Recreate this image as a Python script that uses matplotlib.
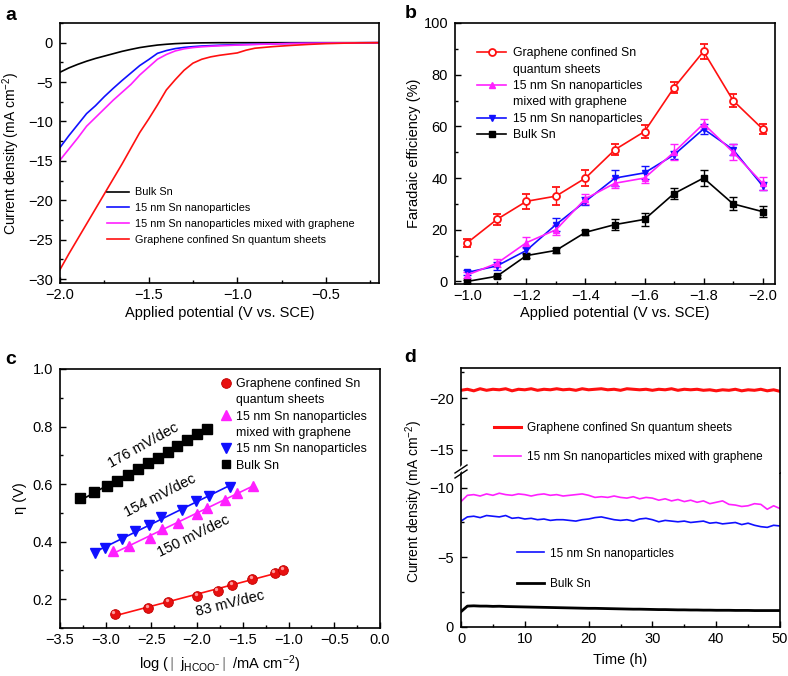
import numpy as np
import matplotlib
matplotlib.use('Agg')
import matplotlib.pyplot as plt
from matplotlib.lines import Line2D
from matplotlib.ticker import MultipleLocator
import matplotlib.transforms as mtransforms

plt.rcParams['font.family'] = ['Liberation Sans', 'DejaVu Sans']
plt.rcParams['mathtext.fontset'] = 'custom'
plt.rcParams['mathtext.rm'] = 'Liberation Sans'
plt.rcParams['mathtext.it'] = 'Liberation Sans:italic'
plt.rcParams['mathtext.bf'] = 'Liberation Sans:bold'
plt.rcParams['font.size'] = 10.5
plt.rcParams['axes.linewidth'] = 1.2
for ax_ in ('xtick', 'ytick'):
    plt.rcParams[f'{ax_}.direction'] = 'in'
    plt.rcParams[f'{ax_}.major.size'] = 4
    plt.rcParams[f'{ax_}.minor.size'] = 2.5
    plt.rcParams[f'{ax_}.major.width'] = 1.0
    plt.rcParams[f'{ax_}.minor.width'] = 1.0
    plt.rcParams[f'{ax_}.labelsize'] = 10.5
plt.rcParams['ytick.major.pad'] = 5

RED = '#ff1010'
BLUE = '#1010ff'
MAG = '#ff20ff'
BLK = '#000000'

# ---------------- Panel a: LSV ----------------
a_potential = [-2.0, -1.95, -1.9, -1.85, -1.8, -1.75, -1.7, -1.65, -1.6, -1.55, -1.5, -1.45,
               -1.4, -1.35, -1.3, -1.25, -1.2, -1.15, -1.1, -1.05, -1.0, -0.95, -0.9, -0.8,
               -0.7, -0.6, -0.5, -0.4, -0.3, -0.2]
a_bulk = [-3.75, -3.2, -2.75, -2.35, -2.0, -1.7, -1.4, -1.1, -0.85, -0.62, -0.45, -0.3,
          -0.2, -0.12, -0.07, -0.04, -0.02, -0.01, 0, 0, 0, 0, 0, 0, 0, 0, 0, 0, 0, 0]
a_np = [-13.3, -11.8, -10.4, -9.0, -8.0, -6.85, -5.8, -4.8, -3.85, -2.9, -2.15, -1.35,
        -1.0, -0.75, -0.6, -0.5, -0.42, -0.37, -0.32, -0.28, -0.25, -0.22, -0.2, -0.15,
        -0.1, -0.07, -0.05, -0.03, -0.01, 0]
a_npg = [-14.9, -13.5, -12.1, -10.6, -9.5, -8.4, -7.3, -6.3, -5.3, -4.1, -3.1, -2.1,
         -1.5, -1.05, -0.78, -0.62, -0.52, -0.45, -0.4, -0.35, -0.3, -0.26, -0.22, -0.16,
         -0.1, -0.07, -0.05, -0.03, -0.01, 0]
a_qs = [-28.8, -26.8, -24.9, -23.0, -21.1, -19.2, -17.3, -15.4, -13.4, -11.4, -9.7, -7.9,
        -6.0, -4.7, -3.5, -2.6, -2.1, -1.8, -1.6, -1.45, -1.3, -0.95, -0.7, -0.5,
        -0.35, -0.22, -0.12, -0.06, -0.02, 0]
a_labels = ['Bulk Sn', '15 nm Sn nanoparticles', '15 nm Sn nanoparticles mixed with graphene',
            'Graphene confined Sn quantum sheets']

# ---------------- Panel b: Faradaic efficiency ----------------
b_potential = [-1.0, -1.1, -1.2, -1.3, -1.4, -1.5, -1.6, -1.7, -1.8, -1.9, -2.0]
b_qs = [15, 24, 31, 33, 40, 51, 58, 75, 89, 70, 59]
b_qs_err = [1.5, 2, 3, 3.5, 3, 2, 2.5, 2, 3, 2.5, 2]
b_npg = [2.5, 7, 15, 20, 32, 38, 40, 50, 61, 50, 38]
b_npg_err = [1, 1.5, 2, 2, 2, 2, 2, 3, 2, 3, 2.5]
b_np = [3.5, 6, 12, 22, 31, 40, 42, 49, 59, 51, 37]
b_np_err = [1, 1.5, 1.5, 2.5, 1.5, 3, 2.5, 1.5, 2, 2, 1.5]
b_bulk = [0, 2, 10, 12, 19, 22, 24, 34, 40, 30, 27]
b_bulk_err = [0.5, 0.5, 1, 1, 1, 2, 2.5, 2, 3, 2.5, 2]

# ---------------- Panel c: Tafel ----------------
c_bulk_x = [-3.281, -3.128, -2.990, -2.873, -2.753, -2.643, -2.534, -2.432, -2.322, -2.217, -2.115, -1.998, -1.889]
c_bulk_y = [0.552, 0.571, 0.592, 0.611, 0.633, 0.653, 0.672, 0.691, 0.713, 0.732, 0.752, 0.773, 0.793]
c_np_x = [-3.117, -3.004, -2.826, -2.680, -2.523, -2.399, -2.169, -2.013, -1.867, -1.641]
c_np_y = [0.359, 0.379, 0.409, 0.437, 0.459, 0.487, 0.511, 0.541, 0.559, 0.589]
c_npg_x = [-2.924, -2.742, -2.516, -2.381, -2.206, -2.005, -1.896, -1.695, -1.568, -1.393]
c_npg_y = [0.366, 0.385, 0.412, 0.444, 0.465, 0.497, 0.516, 0.546, 0.569, 0.595]
c_qs_x = [-2.898, -2.534, -2.315, -1.998, -1.776, -1.615, -1.396, -1.149, -1.057]
c_qs_y = [0.150, 0.171, 0.191, 0.212, 0.229, 0.250, 0.271, 0.291, 0.301]
c_slopes = ['176 mV/dec', '154 mV/dec', '150 mV/dec', '83 mV/dec']

# ---------------- Panel d: stability ----------------
d_time = list(range(0, 51))
d_qs = [-20.75, -20.85, -20.7, -20.9, -20.75, -20.85, -20.8, -20.9, -20.7, -20.85, -20.8, -20.9,
        -20.75, -20.85, -20.8, -20.9, -20.8, -20.85, -20.75, -20.9, -20.8, -20.85, -20.9, -20.8,
        -20.85, -20.75, -20.9, -20.85, -20.8, -20.85, -20.75, -20.85, -20.8, -20.9, -20.75,
        -20.85, -20.8, -20.85, -20.75, -20.8, -20.7, -20.8, -20.75, -20.85, -20.7, -20.8,
        -20.75, -20.85, -20.7, -20.8, -20.65]
d_npg = [-9.0, -9.45, -9.5, -9.4, -9.55, -9.45, -9.6, -9.5, -9.45, -9.55, -9.5, -9.4, -9.5,
         -9.55, -9.45, -9.5, -9.4, -9.45, -9.5, -9.55, -9.45, -9.3, -9.35, -9.3, -9.4, -9.3,
         -9.25, -9.35, -9.2, -9.3, -9.25, -9.1, -9.2, -9.05, -9.15, -9.0, -9.1, -8.95, -9.05,
         -8.85, -8.95, -9.05, -8.8, -8.75, -8.65, -8.7, -8.85, -8.8, -8.45, -8.7, -8.5]
d_np = [-7.6, -7.9, -7.95, -7.85, -8.0, -7.95, -7.9, -8.0, -7.8, -7.85, -7.75, -7.8, -7.7,
        -7.75, -7.65, -7.7, -7.7, -7.65, -7.6, -7.7, -7.75, -7.85, -7.9, -7.8, -7.7, -7.65,
        -7.7, -7.6, -7.75, -7.8, -7.7, -7.55, -7.65, -7.6, -7.55, -7.6, -7.5, -7.55, -7.6,
        -7.45, -7.5, -7.4, -7.45, -7.5, -7.35, -7.45, -7.3, -7.2, -7.15, -7.3, -7.25]
d_bulk = [-1.1, -1.5, -1.52, -1.5, -1.5, -1.48, -1.49, -1.47, -1.46, -1.45, -1.44, -1.43,
          -1.42, -1.41, -1.4, -1.39, -1.38, -1.37, -1.36, -1.35, -1.34, -1.34, -1.33, -1.32,
          -1.31, -1.3, -1.29, -1.28, -1.28, -1.27, -1.26, -1.25, -1.25, -1.24, -1.23, -1.23,
          -1.22, -1.22, -1.21, -1.21, -1.2, -1.2, -1.2, -1.19, -1.19, -1.19, -1.18, -1.18,
          -1.18, -1.18, -1.18]

W, H = 788, 676
fig = plt.figure(figsize=(W / 100, H / 100), dpi=100)


def px_axes(x0, y0, x1, y1):
    return fig.add_axes([x0 / W, 1 - y1 / H, (x1 - x0) / W, (y1 - y0) / H])


# ===== Panel a =====
axa = px_axes(60, 23, 379, 283)
for y, c, lab in zip([a_bulk, a_np, a_npg, a_qs], [BLK, BLUE, MAG, RED], a_labels):
    axa.plot(a_potential, y, color=c, lw=1.2, label=lab)
axa.set_xlim(-2.0, -0.2)
axa.set_ylim(-30.5, 2.5)
axa.xaxis.set_minor_locator(MultipleLocator(0.25))
axa.yaxis.set_major_locator(MultipleLocator(5))
axa.yaxis.set_minor_locator(MultipleLocator(2.5))
axa.set_xticks([-2.0, -1.5, -1.0, -0.5])
axa.set_xlabel('Applied potential (V vs. SCE)')
axa.set_ylabel('Current density (mA cm$^{-2}$)', fontsize=10)
axa.yaxis.set_label_coords(-0.119, 0.5)
axa.xaxis.set_label_coords(0.5, -0.088)
axa.legend(loc='upper left', bbox_to_anchor=(0.146, 0.368), frameon=False, fontsize=7.8,
           handlelength=2.1, handletextpad=0.5, labelspacing=0.55, borderpad=0,
           borderaxespad=0)

# ===== Panel b =====
axb = px_axes(455, 23, 775, 284)
eb_kw = dict(capsize=3, elinewidth=1.0, capthick=1.0, lw=1.2, ms=5)
axb.errorbar(b_potential, b_bulk, yerr=b_bulk_err, color=BLK, marker='s', **eb_kw)
axb.errorbar(b_potential, b_np, yerr=b_np_err, color=BLUE, marker='v', **eb_kw)
axb.errorbar(b_potential, b_npg, yerr=b_npg_err, color=MAG, marker='^', **eb_kw)
axb.errorbar(b_potential, b_qs, yerr=b_qs_err, color=RED, marker='o', mfc='white', mec=RED,
             mew=1.3, **eb_kw)
axb.set_xlim(-0.958, -2.042)
axb.set_ylim(-1, 100)
axb.set_xticks([-1.0, -1.2, -1.4, -1.6, -1.8, -2.0])
axb.xaxis.set_minor_locator(MultipleLocator(0.1))
axb.yaxis.set_major_locator(MultipleLocator(20))
axb.yaxis.set_minor_locator(MultipleLocator(10))
axb.set_xlabel('Applied potential (V vs. SCE)')
axb.set_ylabel('Faradaic efficiency (%)')
axb.yaxis.set_label_coords(-0.106, 0.5)
axb.xaxis.set_label_coords(0.5, -0.084)
blank = Line2D([], [], color='none')
hb = [Line2D([], [], color=RED, marker='o', mfc='white', mec=RED, mew=1.3, ms=5, lw=1.2), blank,
      Line2D([], [], color=MAG, marker='^', ms=5, lw=1.2), blank,
      Line2D([], [], color=BLUE, marker='v', ms=5, lw=1.2),
      Line2D([], [], color=BLK, marker='s', ms=5, lw=1.2)]
lb = ['Graphene confined Sn', 'quantum sheets', '15 nm Sn nanoparticles', 'mixed with graphene',
      '15 nm Sn nanoparticles', 'Bulk Sn']
axb.legend(hb, lb, loc='upper left', bbox_to_anchor=(0.069, 0.907), frameon=False,
           fontsize=8.8, handlelength=2.4, handletextpad=0.5, labelspacing=0.36,
           borderpad=0, borderaxespad=0)

# ===== Panel c =====
axc = px_axes(60, 369, 380, 628)
series_c = [(c_qs_x, c_qs_y, RED, 'o'), (c_npg_x, c_npg_y, MAG, '^'),
            (c_np_x, c_np_y, BLUE, 'v'), (c_bulk_x, c_bulk_y, BLK, 's')]
for xs, ys, col, mk in series_c:
    xs = np.array(xs); ys = np.array(ys)
    k, b0 = np.polyfit(xs, ys, 1)
    xx = np.array([xs.min(), xs.max()])
    axc.plot(xx, k * xx + b0, color=col, lw=1.2)
    if mk == 'o':
        axc.plot(xs, ys, ls='none', marker='o', ms=7, mfc='#e81010', mec='#c00000', mew=0.6)
        tr = mtransforms.offset_copy(axc.transData, fig=fig, x=-1.3, y=1.3, units='points')
        axc.plot(xs, ys, ls='none', marker='o', ms=2.4, mfc='#ff9a9a', mec='none', transform=tr)
    else:
        axc.plot(xs, ys, ls='none', marker=mk, ms=7, color=col)
axc.set_xlim(-3.5, 0)
axc.set_ylim(0.1, 1.0)
axc.xaxis.set_major_locator(MultipleLocator(0.5))
axc.xaxis.set_minor_locator(MultipleLocator(0.25))
axc.yaxis.set_minor_locator(MultipleLocator(0.1))
axc.set_yticks([0.2, 0.4, 0.6, 0.8, 1.0])
axc.set_xlabel(r'log ($\mid$ j$_{\mathrm{HCOO^{-}}}$$\mid$ /mA cm$^{-2}$)')
axc.set_ylabel('η (V)')
axc.yaxis.set_label_coords(-0.103, 0.5)
axc.xaxis.set_label_coords(0.5, -0.098)
axc.text(-2.589, 0.734, c_slopes[0], rotation=29, ha='center', va='center', fontsize=10.5)
axc.text(-2.406, 0.560, c_slopes[1], rotation=27, ha='center', va='center', fontsize=10.5)
axc.text(-2.042, 0.420, c_slopes[2], rotation=26, ha='center', va='center', fontsize=10.5)
axc.text(-1.641, 0.183, c_slopes[3], rotation=14, ha='center', va='center', fontsize=10.5)
hc = [Line2D([], [], ls='none', marker='o', ms=7, mfc='#e81010', mec='#c00000', mew=0.6), blank,
      Line2D([], [], ls='none', marker='^', ms=7, color=MAG), blank,
      Line2D([], [], ls='none', marker='v', ms=7, color=BLUE),
      Line2D([], [], ls='none', marker='s', ms=6, color=BLK)]
lc = ['Graphene confined Sn', 'quantum sheets', '15 nm Sn nanoparticles', 'mixed with graphene',
      '15 nm Sn nanoparticles', 'Bulk Sn']
axc.legend(hc, lc, loc='upper left', bbox_to_anchor=(0.498, 0.965), frameon=False,
           fontsize=8.9, handlelength=1.0, handletextpad=0.35, labelspacing=0.35,
           borderpad=0, borderaxespad=0)

# ===== Panel d (broken axis) =====
axd_lo = px_axes(461, 473.3, 780, 627)
axd_hi = px_axes(461, 368, 780, 473.3)
axd_hi.plot(d_time, d_qs, color=RED, lw=2.2, label='Graphene confined Sn quantum sheets')
axd_hi.plot(d_time, d_npg, color=MAG, lw=1.2, label='15 nm Sn nanoparticles mixed with graphene')
axd_lo.plot(d_time, d_npg, color=MAG, lw=1.2)
axd_lo.plot(d_time, d_np, color=BLUE, lw=1.2, label='15 nm Sn nanoparticles')
axd_lo.plot(d_time, d_bulk, color=BLK, lw=2.0, label='Bulk Sn')
axd_hi.plot(d_time, d_np, color=BLUE, lw=1.2)
axd_lo.set_ylim(0, -11.03)
axd_hi.set_ylim(-12.75, -22.9)
for ax in (axd_lo, axd_hi):
    ax.set_xlim(0, 50)
    ax.xaxis.set_major_locator(MultipleLocator(10))
    ax.xaxis.set_minor_locator(MultipleLocator(5))
    ax.yaxis.set_major_locator(MultipleLocator(5))
    ax.yaxis.set_minor_locator(MultipleLocator(2.5))
axd_lo.spines['top'].set_visible(False)
axd_hi.spines['bottom'].set_visible(False)
axd_hi.tick_params(axis='x', which='both', bottom=False, labelbottom=False)
axd_lo.set_xlabel('Time (h)')
axd_lo.xaxis.set_label_coords(0.5, -0.17)
axd_lo.set_yticks([0, -5, -10])
axd_hi.set_yticks([-15, -20])
fig.text(414 / W, 1 - 501.7 / H, 'Current density (mA cm$^{-2}$)', rotation=90,
         ha='center', va='center', fontsize=10)
leg_hi = axd_hi.legend(loc='upper left', bbox_to_anchor=(0.103, 0.484), frameon=False,
                       fontsize=8.5, handlelength=2.3, handletextpad=0.5, labelspacing=1.45,
                       borderpad=0, borderaxespad=0)
axd_lo.legend(handles=[axd_lo.lines[1], axd_lo.lines[2]], loc='upper left',
              bbox_to_anchor=(0.176, 0.517), frameon=False, fontsize=8.5,
              handlelength=2.3, handletextpad=0.5, labelspacing=1.57, borderpad=0,
              borderaxespad=0)
# break marks on left spine
bx, by = 461, 471
fig.add_artist(Line2D([(bx - 3) / W, (bx + 3) / W], [1 - (by + 1) / H, 1 - (by - 5) / H],
                      color='white', lw=3))
for dy in (0, 5):
    fig.add_artist(Line2D([(bx - 6) / W, (bx + 6) / W],
                          [1 - (by + 4 - dy + 3) / H, 1 - (by - 4 - dy + 3) / H],
                          color='black', lw=1.0))

# panel labels
for lab, x, y in [('a', 11, 15), ('b', 411, 13), ('c', 11, 359), ('d', 410, 357)]:
    fig.text(x / W, 1 - y / H, lab, fontsize=14, fontweight='bold', ha='center', va='center')

fig.savefig('out.png', dpi=100)
